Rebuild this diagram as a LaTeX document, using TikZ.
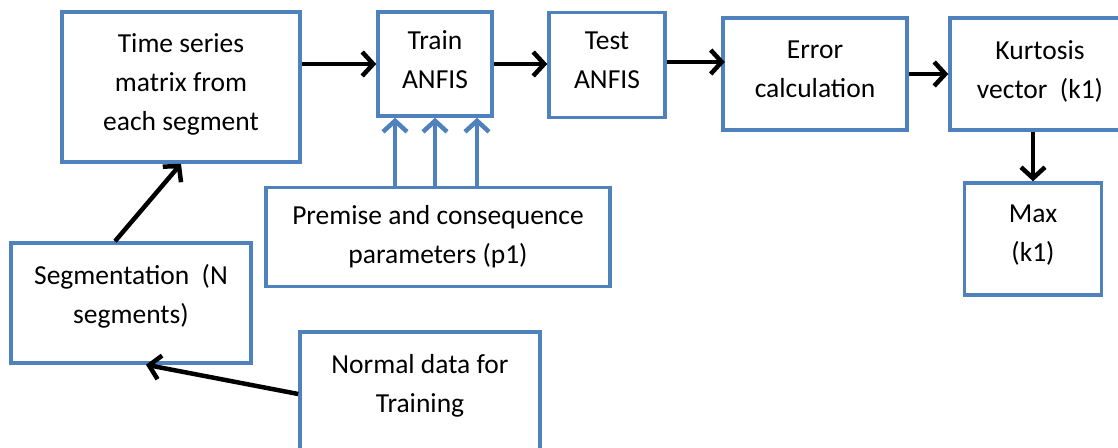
\documentclass[tikz,border=0pt]{standalone}
\usepackage{fontspec}
\setmainfont{Carlito}
\usepackage{xcolor}
\usepackage{tikz}
\usetikzlibrary{arrows.meta,positioning,calc}
\definecolor{boxblue}{HTML}{4F81BD}

\begin{document}
\begin{tikzpicture}[x=1pt,y=-1pt,
  box/.style={draw=boxblue, line width=3.5pt, fill=white, align=center,
    inner sep=0pt, font=\fontsize{27.5}{39}\selectfont},
  flow/.style={line width=4.5pt, -{Straight Barb[length=11pt,width=24pt]}},
  pflow/.style={draw=boxblue, line width=4.5pt, -{Straight Barb[length=11pt,width=24pt]}}]
  \useasboundingbox (0,0) rectangle (1118,447);
  % Top row
  \node[box, minimum width=238pt, minimum height=150pt] (ts) at (181,87)
    {Time series\\matrix from\\each segment\\[-30pt]};
  \node[box, minimum width=114pt, minimum height=104pt] (train) at (435,64)
    {Train\\ANFIS\\[-30pt]};
  \node[box, minimum width=116pt, minimum height=105pt] (test) at (607,65)
    {Test\\ANFIS\\[-30pt]};
  \node[box, minimum width=184pt, minimum height=112pt] (err) at (815,74)
    {Error\\calculation\\[-30pt]};
  \node[box, minimum width=180pt, minimum height=112pt] (kurt) at (1040,74)
    {Kurtosis\\vector~ (k1)\\[-30pt]};
  % Lower boxes
  \node[box, minimum width=137pt, minimum height=112pt] (max) at (1033,239)
    {Max\\(k1)\\[-28pt]};
  \node[box, minimum width=344pt, minimum height=99pt] (prem) at (438,237)
    {Premise and consequence\\parameters (p1)};
  \node[box, minimum width=240pt, minimum height=120pt] (seg) at (131,303)
    {Segmentation~ (N\\segments)\\[-20pt]};
  \node[box, minimum width=240pt, minimum height=138pt] (norm) at (420,401)
    {Normal data for\\Training\\[-4pt]};
  % Connectors
  \draw[flow] (ts.east |- train.west) -- (train.west);
  \draw[flow] (train.east) -- (train.east -| test.west);
  \draw[flow] (test.east) ++(0,-3) -- ++(58,0);
  \draw[flow] (err.east) -- (kurt.west);
  \draw[flow] (kurt.south -| max.north) -- (max.north);
  \foreach \dx in {-40,0,42}
    \draw[pflow] ([xshift=\dx pt]train.south |- prem.north) -- ([xshift=\dx pt]train.south);
  \draw[flow] ([xshift=-16pt]seg.north) -- (ts.south);
  \draw[flow] ([yshift=7pt]norm.west) -- ([xshift=15pt]seg.south);
\end{tikzpicture}
\end{document}
